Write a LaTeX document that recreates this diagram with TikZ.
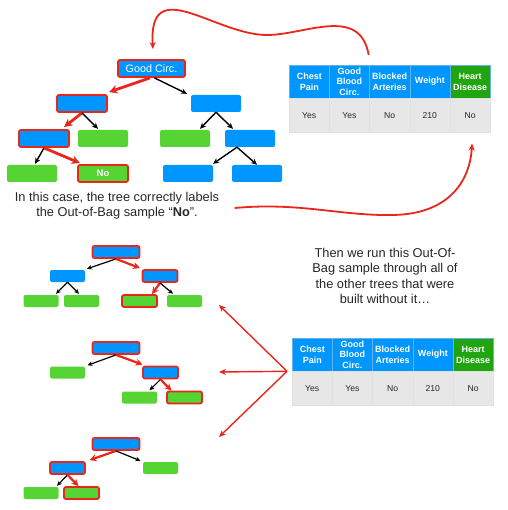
\documentclass[tikz,border=0pt]{standalone}
\usepackage{fontspec}
\setmainfont{Liberation Sans}
\usepackage{xcolor}
\usetikzlibrary{arrows.meta, positioning, calc}
\definecolor{treeblue}{RGB}{0, 150, 255}
\definecolor{leafgreen}{RGB}{85, 212, 52}
\definecolor{pathred}{RGB}{232, 38, 28}
\definecolor{labelgreen}{RGB}{32, 165, 16}
\definecolor{cellgray}{RGB}{231, 231, 231}
\definecolor{inkgray}{RGB}{40, 40, 40}
\tikzstyle{box} = [rectangle, rounded corners=2pt, inner sep=0pt]
\tikzstyle{bigbox} = [box, minimum width=50pt, minimum height=17pt]
\tikzstyle{smallbox} = [box, minimum width=35pt, minimum height=12pt]
\tikzstyle{bluebox} = [fill=treeblue]
\tikzstyle{greenbox} = [fill=leafgreen]
\tikzstyle{onpath} = [draw=pathred, line width=1.8pt]
\tikzstyle{arrow} = [line width=1.4pt, -{Stealth[length=6pt, width=5.5pt]}, black]
\tikzstyle{redarrow} = [line width=2.8pt, -{Stealth[length=8.5pt, width=8.5pt]}, pathred]
\tikzstyle{smallarrow} = [line width=1.2pt, -{Stealth[length=5pt, width=4.5pt]}, black]
\tikzstyle{smallred} = [line width=2.2pt, -{Stealth[length=7pt, width=7pt]}, pathred]
\tikzstyle{swoop} = [line width=1.8pt, -{Stealth[length=7pt, width=6pt]}, pathred]
\tikzstyle{fanarrow} = [line width=1.4pt, -{Stealth[length=7pt, width=6pt]}, pathred]
\tikzstyle{headcell} = [rectangle, draw=treeblue!85!black!60!white, line width=0.3pt, minimum width=40.2pt, minimum height=33pt, inner sep=0pt, text=white, align=center, font=\bfseries\fontsize{9}{10.7}\selectfont]
\tikzstyle{valcell} = [rectangle, fill=cellgray, draw=black!12, line width=0.3pt, minimum width=40.2pt, minimum height=34pt, inner sep=0pt, text=inkgray, font=\fontsize{8.6}{10}\selectfont]
\tikzstyle{story} = [align=center, text=black!85, font=\fontsize{12.8}{15.2}\selectfont]

\begin{document}
\begin{tikzpicture}[x=1pt, y=-1pt]
\useasboundingbox (0,0) rectangle (507,510);

% the tree that was built without the sample
\node[bigbox, bluebox, onpath, minimum width=67pt, text=white, font=\fontsize{10.8}{12}\selectfont] (root) at (151.5,68.5) {Good Circ.};
\node[bigbox, bluebox, onpath] (t1l) at (82,103.5) {};
\node[bigbox, bluebox] (t1r) at (216,103.5) {};
\node[bigbox, bluebox, onpath] (t2a) at (44,138.5) {};
\node[bigbox, greenbox] (t2b) at (103,138.5) {};
\node[bigbox, greenbox] (t2c) at (185,138.5) {};
\node[bigbox, bluebox] (t2d) at (250,138.5) {};
\node[bigbox, greenbox] (t3a) at (32,173.5) {};
\node[bigbox, greenbox, onpath, text=white, font=\bfseries\fontsize{9.5}{10}\selectfont] (t3b) at (103,173.5) {No};
\node[bigbox, bluebox] (t3c) at (188,173.5) {};
\node[bigbox, bluebox] (t3d) at (257,173.5) {};

\draw[redarrow] ($(root.south)+(-1.5,0)$) -- ($(t1l.north)+(27,-2)$);
\draw[arrow] ($(root.south)+(3,0)$) -- ($(t1r.north)+(-29,-1)$);
\draw[redarrow] (t1l.south) -- ($(t2a.north)+(20,-2)$);
\draw[arrow] (t1l.south) -- ($(t2b.north)+(-5,-1)$);
\draw[arrow] (t1r.south) -- ($(t2c.north)+(15,-1)$);
\draw[arrow] (t1r.south) -- ($(t2d.north)+(-17,-1)$);
\draw[arrow] (t2a.south) -- ($(t3a.north)+(3,-1)$);
\draw[redarrow] (t2a.south) -- ($(t3b.north)+(-23,-1)$);
\draw[arrow] ($(t2d.south)+(-13,0)$) -- ($(t3c.north)+(25,-1)$);
\draw[arrow] ($(t2d.south)+(-13,0)$) -- (t3d.north);

\node[story] (caseText) at (117,206) {In this case, the tree correctly labels\\the Out-of-Bag sample “\textbf{No}”.};
\node[story] (thenText) at (385,276) {Then we run this Out-Of-\\Bag sample through all of\\the other trees that were\\built without it…};

% the out-of-bag sample, twice
\foreach \tab/\tx/\ty in {up/289/65, low/292/338} {
  \foreach \hd/\val/\hcol [count=\i] in {{Chest\\Pain}/Yes/treeblue, {Good\\Blood\\Circ.}/Yes/treeblue, {Blocked\\Arteries}/No/treeblue, Weight/210/treeblue, {Heart\\Disease}/No/labelgreen} {
    \node[headcell, fill=\hcol, anchor=north west] (\tab h\i) at (\tx+40.2*\i-40.2, \ty) {\hd};
    \node[valcell, anchor=north] (\tab v\i) at (\tab h\i.south) {\val};
  }
}

\draw[swoop] ($(uph2.north east)+(-1,-10)$) .. controls (360,5) and (305,35) .. (267,35)
  .. controls (215,35) and (148,-28) .. ($(root.north)+(1.5,-10)$);
\draw[swoop] ($(caseText.east)+(12,2)$) .. controls (300,202) and (340,216) .. (393,215)
  .. controls (450,214) and (470,180) .. ($(upv5.south)+(2,11)$);

% the other trees
\node[smallbox, bluebox, onpath, minimum width=47pt] (aroot) at (116,252) {};
\node[smallbox, bluebox] (a1l) at (67.5,276) {};
\node[smallbox, bluebox, onpath] (a1r) at (160,276) {};
\node[smallbox, greenbox] (a2a) at (41,301) {};
\node[smallbox, greenbox] (a2b) at (81.5,301) {};
\node[smallbox, greenbox, onpath] (a2c) at (139.5,301) {};
\node[smallbox, greenbox] (a2d) at (184.5,301) {};
\draw[smallarrow] (aroot.south) -- ($(a1l.north)+(19.5,-1)$);
\draw[smallred] (aroot.south) -- ($(a1r.north)+(-20,-1)$);
\draw[smallarrow] (a1l.south) -- ($(a2a.north)+(15,-1)$);
\draw[smallarrow] (a1l.south) -- ($(a2b.north)+(-2.5,-1)$);
\draw[smallred] (a1r.south) -- ($(a2c.north)+(12.5,0)$);
\draw[smallarrow] (a1r.south) -- ($(a2d.north)+(-11.5,-1)$);

\node[smallbox, bluebox, onpath, minimum width=47pt] (broot) at (116,348) {};
\node[smallbox, greenbox] (b1l) at (67.5,372.5) {};
\node[smallbox, bluebox, onpath] (b1r) at (160.5,372.5) {};
\node[smallbox, greenbox] (b2a) at (139.5,397.5) {};
\node[smallbox, greenbox, onpath] (b2b) at (184.5,397.5) {};
\draw[smallarrow] (broot.south) -- ($(b1l.north)+(20,-1)$);
\draw[smallred] (broot.south) -- ($(b1r.north)+(-18,-1)$);
\draw[smallarrow] (b1r.south) -- ($(b2a.north)+(10,-1)$);
\draw[smallred] (b1r.south) -- ($(b2b.north)+(-13,0)$);

\node[smallbox, bluebox, onpath, minimum width=47pt] (croot) at (116,444) {};
\node[smallbox, bluebox, onpath] (c1l) at (67.5,468) {};
\node[smallbox, greenbox] (c1r) at (160.5,468) {};
\node[smallbox, greenbox] (c2a) at (41,493) {};
\node[smallbox, greenbox, onpath] (c2b) at (81.5,493) {};
\draw[smallred] (croot.south) -- ($(c1l.north)+(22,-1)$);
\draw[smallarrow] (croot.south) -- ($(c1r.north)+(-20,-1)$);
\draw[smallarrow] (c1l.south) -- ($(c2a.north)+(16,-1)$);
\draw[smallred] (c1l.south) -- ($(c2b.north)+(-3,0)$);

\coordinate (hub) at ($(lowh1.south west)+(-5,0)$);
\coordinate (toA) at (219,305);
\coordinate (toB) at (219,372);
\coordinate (toC) at (219,437);
\draw[fanarrow] (hub) -- (toA);
\draw[fanarrow] (hub) -- (toB);
\draw[fanarrow] (hub) -- (toC);
\end{tikzpicture}
\end{document}
